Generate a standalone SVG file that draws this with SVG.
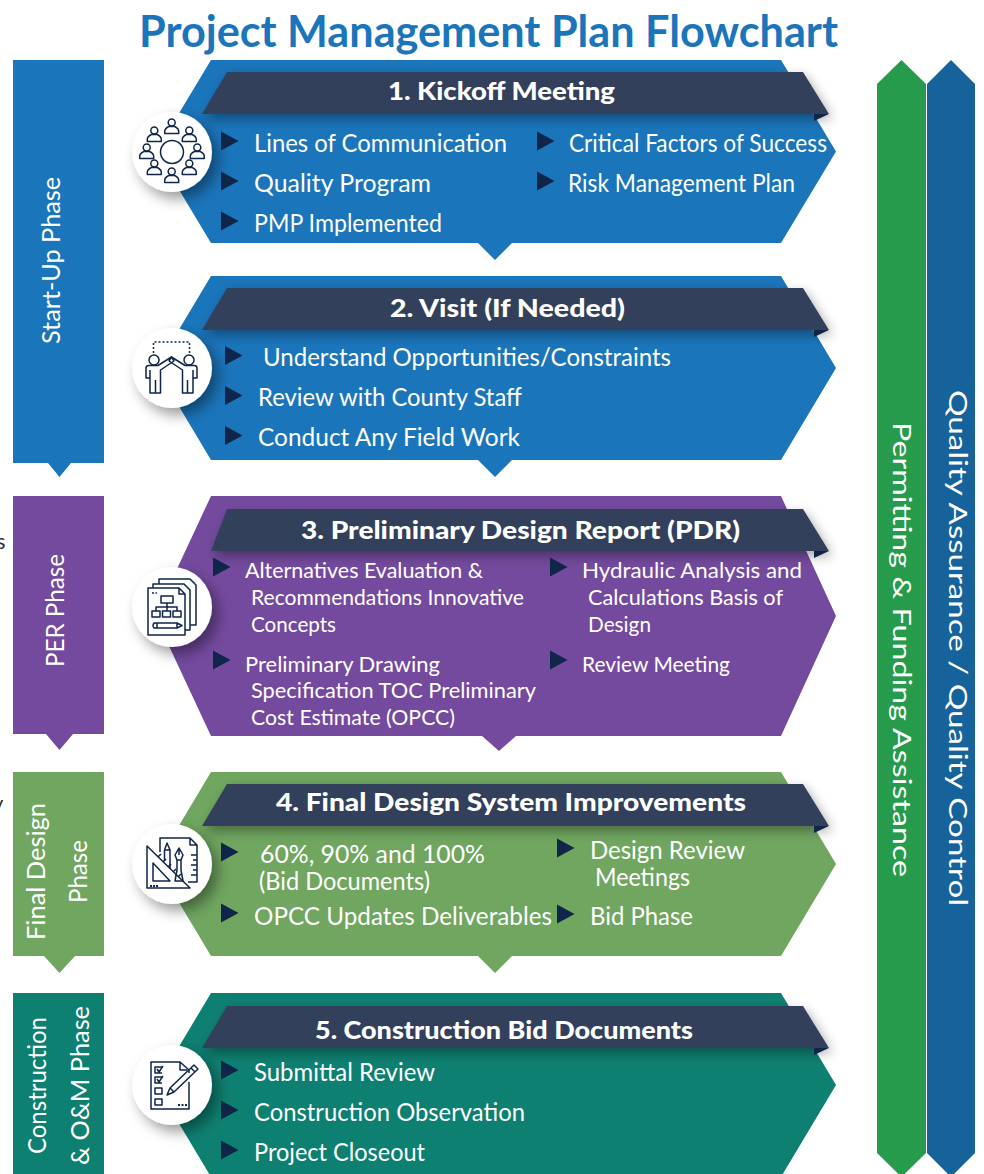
<svg xmlns="http://www.w3.org/2000/svg" xmlns:xlink="http://www.w3.org/1999/xlink" width="984" height="1174" viewBox="0 0 984 1174">
<style>
text{font-family:"Lato","Noto Sans","Liberation Sans",sans-serif;fill:#fff}
.t{font-size:25.500px;font-weight:400}
.s{font-size:22px;font-weight:400}
.b{font-size:25px;font-weight:900}
.v{font-size:25.500px;font-weight:400}
.i{fill:none;stroke:#0f2549;stroke-width:1.500;stroke-linejoin:round}
.k{fill:#0f2549;stroke:none}
.c{fill:#fff;filter:url(#sh)}
.ban{fill:#333f5b;filter:url(#sh2)}
.fold{fill:#0f2549}
</style>
<defs>
<filter id="sh" x="-40%" y="-40%" width="180%" height="190%"><feDropShadow dx="6" dy="7" stdDeviation="7" flood-color="#000" flood-opacity=".4"/></filter>
<filter id="sh2" x="-5%" y="-30%" width="110%" height="180%"><feDropShadow dx="3" dy="5" stdDeviation="6" flood-color="#000" flood-opacity=".35"/></filter>
<polygon id="tri" class="k" points="0,-9.500 17.500,0 0,9.500"/>
<g id="person"><circle cx="0" cy="-4.500" r="3.500" class="i"/><path class="i" d="M-7,6.500V4.500C-7,1.500-3,-.5-3,-.5H3C3,-.5,7,1.500,7,4.500V6.500Z"/></g>
</defs>

<rect width="984" height="1174" fill="#fff"/>
<text x="139" y="47" font-size="43" font-weight="700" style="fill:#1b75bb" textLength="699" lengthAdjust="spacingAndGlyphs">Project Management Plan Flowchart</text>
<text x="-4" y="549" font-size="22" style="fill:#333">s</text>
<text x="-8" y="811" font-size="22" style="fill:#333">y</text>

<g id="phase-bars">
<g id="phase-startup"><path fill="#1b75bb" d="M13,60H104V463H71L59.500,477L48,463H13Z"/><text class="v" transform="translate(60,344) rotate(-90)" textLength="167" lengthAdjust="spacingAndGlyphs">Start-Up Phase</text></g>
<g id="phase-per"><path fill="#744a9e" d="M13,496H104V734H73L59.500,750L46,734H13Z"/><text class="v" transform="translate(64,667) rotate(-90)" textLength="113" lengthAdjust="spacingAndGlyphs">PER Phase</text></g>
<g id="phase-final"><path fill="#70a660" d="M13,772H104V956H75L59.500,973L44,956H13Z"/><text class="v" transform="translate(45,940) rotate(-90)" textLength="137" lengthAdjust="spacingAndGlyphs">Final Design</text><text class="v" transform="translate(87,903) rotate(-90)" textLength="63" lengthAdjust="spacingAndGlyphs">Phase</text></g>
<g id="phase-construction"><rect x="13" y="993" width="91" height="181" fill="#0e8071"/><text class="v" transform="translate(46,1154) rotate(-90)" textLength="137" lengthAdjust="spacingAndGlyphs">Construction</text><text class="v" transform="translate(89,1165) rotate(-90)" textLength="159" lengthAdjust="spacingAndGlyphs">&amp; O&amp;M Phase</text></g>
</g>

<g id="side-arrows">
<g id="permitting"><path fill="#259b4b" d="M877,84L901.500,60L926,84V1153L901.500,1177L877,1153Z"/><text class="v" transform="translate(893,422) rotate(90)" textLength="455" lengthAdjust="spacingAndGlyphs">Permitting &amp; Funding Assistance</text></g>
<g id="qa"><path fill="#16629b" d="M927,84L951,60L975,84V1153L951,1177L927,1153Z"/><text class="v" transform="translate(949,390) rotate(90)" textLength="516" lengthAdjust="spacingAndGlyphs">Quality Assurance / Quality Control</text></g>
</g>

<g id="connectors"></g>

<g id="node1">
<path fill="#1b75bb" d="M211,60H781L836,151.500L781,243H512L495,260L478,243H211L156,151.500Z"/>
<polygon class="ban" points="227,72 803,72 829,114 202,114"/>
<polygon class="fold" points="814,114 829,114 814,121"/>
<text class="b" x="388" y="100" textLength="227" lengthAdjust="spacingAndGlyphs">1. Kickoff Meeting</text>
<circle class="c" cx="172" cy="152" r="40"/>
<circle class="i" cx="172" cy="152" r="11.500"/>
<use xlink:href="#person" href="#person" x="171.700" y="127"/><use xlink:href="#person" href="#person" x="154.300" y="135"/><use xlink:href="#person" href="#person" x="189.300" y="135"/><use xlink:href="#person" href="#person" x="146.700" y="152"/><use xlink:href="#person" href="#person" x="197.300" y="152"/><use xlink:href="#person" href="#person" x="154.300" y="168"/><use xlink:href="#person" href="#person" x="189.300" y="168"/><use xlink:href="#person" href="#person" x="171.700" y="176"/>
<use xlink:href="#tri" href="#tri" x="221" y="141"/><use xlink:href="#tri" href="#tri" x="221" y="181"/><use xlink:href="#tri" href="#tri" x="221" y="221"/><use xlink:href="#tri" href="#tri" x="537" y="141"/><use xlink:href="#tri" href="#tri" x="537" y="181"/>
<text class="t" x="254" y="152" textLength="253" lengthAdjust="spacingAndGlyphs">Lines of Communication</text>
<text class="t" x="254" y="192" textLength="177" lengthAdjust="spacingAndGlyphs">Quality Program</text>
<text class="t" x="254" y="232" textLength="188" lengthAdjust="spacingAndGlyphs">PMP Implemented</text>
<text class="t" x="569" y="152" textLength="258" lengthAdjust="spacingAndGlyphs">Critical Factors of Success</text>
<text class="t" x="568" y="192" textLength="227" lengthAdjust="spacingAndGlyphs">Risk Management Plan</text>
</g>

<g id="node2">
<path fill="#1b75bb" d="M211,276H781L836,368L781,460H512L495,477L478,460H211L156,368Z"/>
<polygon class="ban" points="227,288 803,288 829,330 202,330"/>
<polygon class="fold" points="814,330 829,330 814,337"/>
<text class="b" x="390" y="317" textLength="235" lengthAdjust="spacingAndGlyphs">2. Visit (If Needed)</text>
<circle class="c" cx="172" cy="368" r="40"/>
<path class="i" stroke-dasharray="2 2" d="M153.500,353V342H189.500V353"/>
<circle class="i" cx="154" cy="360" r="5"/><circle class="i" cx="189" cy="360" r="5"/>
<path class="i" d="M146,378V368Q146,365.500 149,365.500H158L171.500,357L174,361L160.500,370V393H150V378H146ZM150,378V370M155.500,380V393"/>
<path class="i" d="M197,378V368Q197,365.500 194,365.500H185L171.500,357L169,361L182.500,370V393H193V378H197ZM193,378V370M187.500,380V393"/>
<use xlink:href="#tri" href="#tri" x="225" y="355.500"/><use xlink:href="#tri" href="#tri" x="225" y="395.500"/><use xlink:href="#tri" href="#tri" x="225" y="435.500"/>
<text class="t" x="263" y="366" textLength="408" lengthAdjust="spacingAndGlyphs">Understand Opportunities/Constraints</text>
<text class="t" x="258" y="406" textLength="264" lengthAdjust="spacingAndGlyphs">Review with County Staff</text>
<text class="t" x="258" y="446" textLength="262" lengthAdjust="spacingAndGlyphs">Conduct Any Field Work</text>
</g>

<g id="node3">
<path fill="#744a9e" d="M211,496H781L836,616L781,736H516L499,751L482,736H211L155,616Z"/>
<polygon class="ban" points="227,509 803,509 829,551 211,551"/>
<polygon class="fold" points="814,551 829,551 814,558"/>
<text class="b" x="301" y="539" textLength="439" lengthAdjust="spacingAndGlyphs">3. Preliminary Design Report (PDR)</text>
<circle class="c" cx="172" cy="607" r="40"/>
<path class="i" d="M159,584V579H190L196,585V625H190"/>
<path class="i" d="M153,588V584H184L190,590V630H185"/>
<path class="i" d="M148,588H179L185,594V635H148Z"/>
<path class="i" d="M179,588V594H185"/>
<path class="i" d="M152,593H154M155.500,593H157"/>
<rect class="i" x="161" y="596" width="12" height="7"/><rect class="i" x="152" y="611" width="8" height="6"/><rect class="i" x="162.500" y="611" width="8" height="6"/><rect class="i" x="173" y="611" width="8" height="6"/>
<path class="i" d="M167,603V611M156,611V607H177V611"/>
<path class="i" d="M154,623H177L182,625.500L177,628H154Q152,625.500 154,623ZM157,623V628M177,623V628"/>
<use xlink:href="#tri" href="#tri" x="213" y="567"/><use xlink:href="#tri" href="#tri" x="213" y="660"/><use xlink:href="#tri" href="#tri" x="550" y="567"/><use xlink:href="#tri" href="#tri" x="550" y="660"/>
<text class="s" x="245" y="577.500" textLength="238" lengthAdjust="spacingAndGlyphs">Alternatives Evaluation &amp;</text>
<text class="s" x="251" y="604.500" textLength="273" lengthAdjust="spacingAndGlyphs">Recommendations Innovative</text>
<text class="s" x="251" y="631.500" textLength="85" lengthAdjust="spacingAndGlyphs">Concepts</text>
<text class="s" x="245" y="671.500" textLength="195" lengthAdjust="spacingAndGlyphs">Preliminary Drawing</text>
<text class="s" x="251" y="697.500" textLength="285" lengthAdjust="spacingAndGlyphs">Specification TOC Preliminary</text>
<text class="s" x="251" y="724.500" textLength="204" lengthAdjust="spacingAndGlyphs">Cost Estimate (OPCC)</text>
<text class="s" x="582" y="578" textLength="220" lengthAdjust="spacingAndGlyphs">Hydraulic Analysis and</text>
<text class="s" x="588" y="604.500" textLength="195" lengthAdjust="spacingAndGlyphs">Calculations Basis of</text>
<text class="s" x="588" y="631.500" textLength="63" lengthAdjust="spacingAndGlyphs">Design</text>
<text class="s" x="582" y="671.500" textLength="148" lengthAdjust="spacingAndGlyphs">Review Meeting</text>
</g>

<g id="node4">
<path fill="#70a660" d="M211,772H781L836,864L781,956H512L495,973L478,956H211L156,864Z"/>
<polygon class="ban" points="227,784 803,784 829,826 202,826"/>
<polygon class="fold" points="814,826 829,826 814,833"/>
<text class="b" x="276" y="811" textLength="470" lengthAdjust="spacingAndGlyphs">4. Final Design System Improvements</text>
<circle class="c" cx="172" cy="864" r="40"/>
<path class="i" d="M160,852V838H190L197,845V882H188M190,838V845H197M191,855H197M193,860H197M191,865H197M193,870H197M191,875H197"/>
<path class="i" d="M147,846L190,888H147ZM153,863L170,881H153ZM158,857L161,854M163,862L166,859M168,867L171,864M173,872L176,869M178,877L181,874"/>
<path class="k" d="M150,885h2v2h-2zM153,885h2v2h-2zM156,885h2v2h-2z"/>
<path class="i" d="M164.500,850L167,843L170,850V869M164.500,850V861M164.500,850H170"/>
<path class="i" d="M179,848L183,855L181,860H177L175,855ZM179,848V855M177,860V870L175,881H183L181,870V860"/>
<use xlink:href="#tri" href="#tri" x="221" y="852"/><use xlink:href="#tri" href="#tri" x="221" y="913"/><use xlink:href="#tri" href="#tri" x="557" y="848"/><use xlink:href="#tri" href="#tri" x="557" y="914"/>
<text class="t" x="260" y="862.500" textLength="225" lengthAdjust="spacingAndGlyphs">60%, 90% and 100%</text>
<text class="t" x="259" y="889.500" textLength="171" lengthAdjust="spacingAndGlyphs">(Bid Documents)</text>
<text class="t" x="254" y="925" textLength="298" lengthAdjust="spacingAndGlyphs">OPCC Updates Deliverables</text>
<text class="t" x="590" y="858.500" textLength="155" lengthAdjust="spacingAndGlyphs">Design Review</text>
<text class="t" x="595" y="885.500" textLength="95" lengthAdjust="spacingAndGlyphs">Meetings</text>
<text class="t" x="590" y="925" textLength="103" lengthAdjust="spacingAndGlyphs">Bid Phase</text>
</g>

<g id="node5">
<path fill="#0e8071" d="M211,993H781L836,1085L781,1177H211L156,1085Z"/>
<polygon class="ban" points="227,1006 803,1006 829,1048 202,1048"/>
<polygon class="fold" points="814,1048 829,1048 814,1055"/>
<text class="b" x="315" y="1039" textLength="378" lengthAdjust="spacingAndGlyphs">5. Construction Bid Documents</text>
<circle class="c" cx="172" cy="1085" r="40"/>
<path class="i" d="M189,1082V1109H151V1062H180L189,1070V1073M180,1062V1070H187"/>
<path class="i" d="M162,1067H155V1073H162M157,1069L159,1072L163,1066M162,1077H155V1083H162M157,1079L159,1082L163,1076"/>
<rect class="i" x="155" y="1088" width="7" height="6"/><rect class="i" x="155" y="1099" width="7" height="6"/>
<path class="i" d="M167,1095L170,1088L194,1065L198,1069L174,1092ZM170,1088L174,1092M191,1068L195,1072"/>
<path class="k" d="M178,1104h2v2h-2zM181.500,1104h2v2h-2zM185,1104h2v2h-2z"/>
<use xlink:href="#tri" href="#tri" x="221" y="1070"/><use xlink:href="#tri" href="#tri" x="221" y="1110"/><use xlink:href="#tri" href="#tri" x="221" y="1150"/>
<text class="t" x="254" y="1081" textLength="181" lengthAdjust="spacingAndGlyphs">Submittal Review</text>
<text class="t" x="254" y="1121" textLength="271" lengthAdjust="spacingAndGlyphs">Construction Observation</text>
<text class="t" x="254" y="1161" textLength="171" lengthAdjust="spacingAndGlyphs">Project Closeout</text>
</g>
</svg>
